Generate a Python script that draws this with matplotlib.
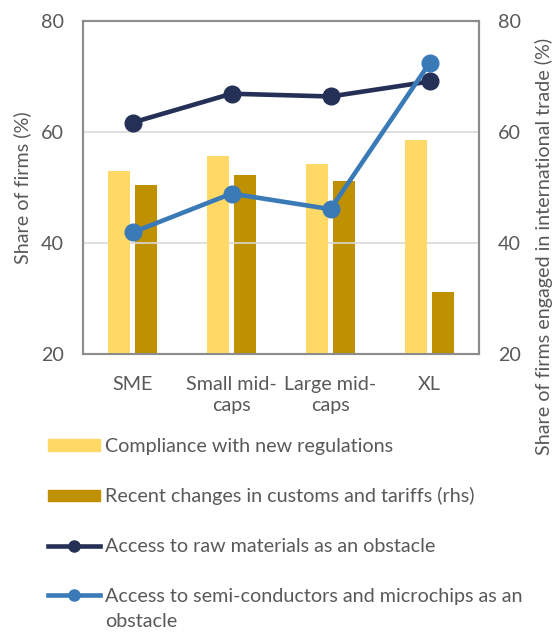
import matplotlib
matplotlib.use("Agg")
import matplotlib.pyplot as plt
from matplotlib.patches import Patch
from matplotlib.lines import Line2D
import numpy as np

categories = ["SME", "Small mid-\ncaps", "Large mid-\ncaps", "XL"]
compliance = [52.9, 55.6, 54.3, 58.6]
customs = [50.5, 52.3, 51.1, 31.1]
raw_materials = [61.7, 66.9, 66.4, 69.1]
semiconductors = [41.9, 48.9, 46.1, 72.4]
yticks = [20, 40, 60, 80]

labels = ["Compliance with new regulations",
          "Recent changes in customs and tariffs (rhs)",
          "Access to raw materials as an obstacle",
          "Access to semi-conductors and microchips as an"]
label_cont = "obstacle"

c_light = "#FFD966"
c_dark = "#BF9000"
c_navy = "#243056"
c_blue = "#3A7AB7"
txt = "#595959"
spine_c = "#8C8C8C"

plt.rcParams["font.family"] = ["Lato", "DejaVu Sans"]
fs = 14.2

W, H = 560, 633
fig = plt.figure(figsize=(5.6, 6.33), dpi=100)
ax = fig.add_axes([83/W, 1-354/H, (479-83)/W, (354-21)/H])
ax2 = ax.twinx()

x = np.arange(len(categories))
w = 0.225
off = 0.137
ax.bar(x - off, compliance, w, color=c_light, zorder=2)
ax2.bar(x + off, customs, w, color=c_dark, zorder=2)
ax.plot(x, raw_materials, color=c_navy, lw=3.3, marker="o", ms=12, zorder=3)
ax.plot(x, semiconductors, color=c_blue, lw=3.3, marker="o", ms=12, zorder=3)

for a in (ax, ax2):
    a.set_ylim(20, 80)
    a.set_yticks(yticks)
    a.tick_params(length=0, labelsize=fs, labelcolor=txt)
    for s in a.spines.values():
        s.set_color(spine_c)
        s.set_linewidth(1.5)
ax.tick_params(axis="y", pad=14)
ax2.tick_params(axis="y", pad=13.5)
ax.set_xlim(-0.5, 3.5)
ax.set_xticks(x)
ax.set_xticklabels(categories, fontsize=fs, color=txt, linespacing=1.3)
ax.tick_params(axis="x", pad=16)
for yv in [40, 60]:
    ax.axhline(yv, color="#D9D9D9", lw=1.2, zorder=0)
ax.patch.set_visible(False)
ax.set_zorder(ax2.get_zorder() + 1)
ax2.patch.set_visible(True)

fig.text(22/W, 1-188/H, "Share of firms (%)",
         rotation=90, ha="center", va="center", fontsize=fs, color=txt)
fig.text(544/W, 1-246/H, "Share of firms engaged in international trade (%)",
         rotation=90, ha="center", va="center", fontsize=fs, color=txt)

handles = [Patch(color=c_light), Patch(color=c_dark),
           Line2D([], [], color=c_navy, lw=3.3, marker="o", ms=8),
           Line2D([], [], color=c_blue, lw=3.3, marker="o", ms=8)]
leg = fig.legend(handles, labels, loc="upper left", bbox_to_anchor=(40/W, 1-430/H),
                 frameon=False, fontsize=fs, labelcolor=txt, handlelength=2.65,
                 handleheight=0.5, handletextpad=0.25, labelspacing=1.65,
                 borderaxespad=0)

fig.canvas.draw()
bb = leg.get_texts()[3].get_window_extent(fig.canvas.get_renderer())
fig.text(bb.x0 / fig.bbox.width, (bb.y0 - 25 + bb.height / 2) / fig.bbox.height,
         label_cont, ha="left", va="center", fontsize=fs, color=txt)

fig.savefig("out.png", dpi=100)
